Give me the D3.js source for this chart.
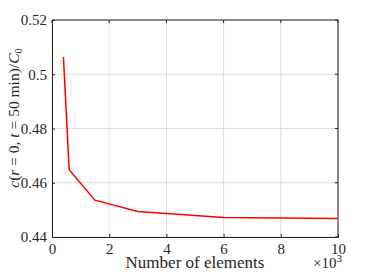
<!DOCTYPE html>
<html>
<head>
<meta charset="utf-8">
<script src="https://cdn.jsdelivr.net/npm/d3@7.9.0/dist/d3.min.js"></script>
<style>
  body { margin: 0; background: #fff; }
  svg text { font-family: 'Liberation Serif', serif; fill: #262626; }
</style>
</head>
<body>
<svg id="chart" width="374" height="280"></svg>
<script>
// number of elements (x10^3) and centre concentration
const elements = [0.4, 0.6, 1.5, 3, 6, 10];
const conc = [0.5063, 0.4648, 0.4536, 0.4494, 0.4472, 0.4468];
const xTicks = [0, 2, 4, 6, 8, 10];
const yTicks = [0.44, 0.46, 0.48, 0.5, 0.52];

const margin = { top: 20, right: 36, bottom: 43, left: 52 };
const width = 374, height = 280;

const svg = d3.select('#chart');

const x = d3.scaleLinear().domain([0, 10]).range([margin.left, width - margin.right]);
const y = d3.scaleLinear().domain([0.44, 0.52]).range([height - margin.bottom, margin.top]);

// grid
svg.append('g')
  .selectAll('line')
  .data(xTicks)
  .join('line')
  .attr('x1', d => x(d)).attr('x2', d => x(d))
  .attr('y1', y(0.44)).attr('y2', y(0.52))
  .attr('stroke', '#dcdcdc').attr('stroke-width', 1);

svg.append('g')
  .selectAll('line')
  .data(yTicks)
  .join('line')
  .attr('y1', d => y(d)).attr('y2', d => y(d))
  .attr('x1', x(0)).attr('x2', x(10))
  .attr('stroke', '#dcdcdc').attr('stroke-width', 1);

// axes (ticks inward like matlab)
const xAxis = svg.append('g')
  .attr('transform', `translate(0,${y(0.44)})`)
  .call(d3.axisBottom(x).tickValues(xTicks).tickSize(-3).tickPadding(6).tickFormat(d3.format('d')));
const yAxis = svg.append('g')
  .attr('transform', `translate(${x(0)},0)`)
  .call(d3.axisLeft(y).tickValues(yTicks).tickSize(-3).tickPadding(5).tickFormat(d => String(+d.toFixed(2))));

[xAxis, yAxis].forEach(a => {
  a.select('.domain').attr('stroke', '#262626');
  a.selectAll('.tick line').attr('stroke', '#262626');
  a.selectAll('.tick text').attr('font-size', 15).attr('fill', '#262626');
});

// top and right box
svg.append('line')
  .attr('x1', x(0)).attr('x2', x(10)).attr('y1', y(0.52)).attr('y2', y(0.52))
  .attr('stroke', '#262626');
svg.append('line')
  .attr('x1', x(10)).attr('x2', x(10)).attr('y1', y(0.52)).attr('y2', y(0.44))
  .attr('stroke', '#262626');
svg.append('g')
  .selectAll('line')
  .data(xTicks)
  .join('line')
  .attr('x1', d => x(d)).attr('x2', d => x(d))
  .attr('y1', y(0.52)).attr('y2', y(0.52) + 3)
  .attr('stroke', '#262626');
svg.append('g')
  .selectAll('line')
  .data(yTicks)
  .join('line')
  .attr('x1', x(10) - 3).attr('x2', x(10))
  .attr('y1', d => y(d)).attr('y2', d => y(d))
  .attr('stroke', '#262626');

// data line
const line = d3.line().x((d, i) => x(elements[i])).y(d => y(d));
svg.append('path')
  .datum(conc)
  .attr('d', line)
  .attr('fill', 'none')
  .attr('stroke', '#ff0000')
  .attr('stroke-width', 1.5);

// x label
svg.append('text')
  .attr('x', 195)
  .attr('y', 268)
  .attr('text-anchor', 'middle')
  .attr('font-size', 17)
  .text('Number of elements');

// exponent
const ex = svg.append('text')
  .attr('x', 313)
  .attr('y', 268)
  .attr('font-size', 15);
ex.append('tspan').text('×10');
ex.append('tspan').attr('font-size', 11).attr('dy', -6).text('3');

// y label
const yl = svg.append('text')
  .attr('transform', 'translate(19,118) rotate(-90)')
  .attr('text-anchor', 'middle')
  .attr('font-size', 15.5);
yl.append('tspan').attr('font-style', 'italic').text('c');
yl.append('tspan').text('(');
yl.append('tspan').attr('font-style', 'italic').text('r');
yl.append('tspan').text(' = 0, ');
yl.append('tspan').attr('font-style', 'italic').text('t');
yl.append('tspan').text(' = 50 min)/');
yl.append('tspan').attr('font-style', 'italic').text('C');
yl.append('tspan').attr('font-size', 10.5).attr('dy', 3).text('0');
</script>
</body>
</html>
